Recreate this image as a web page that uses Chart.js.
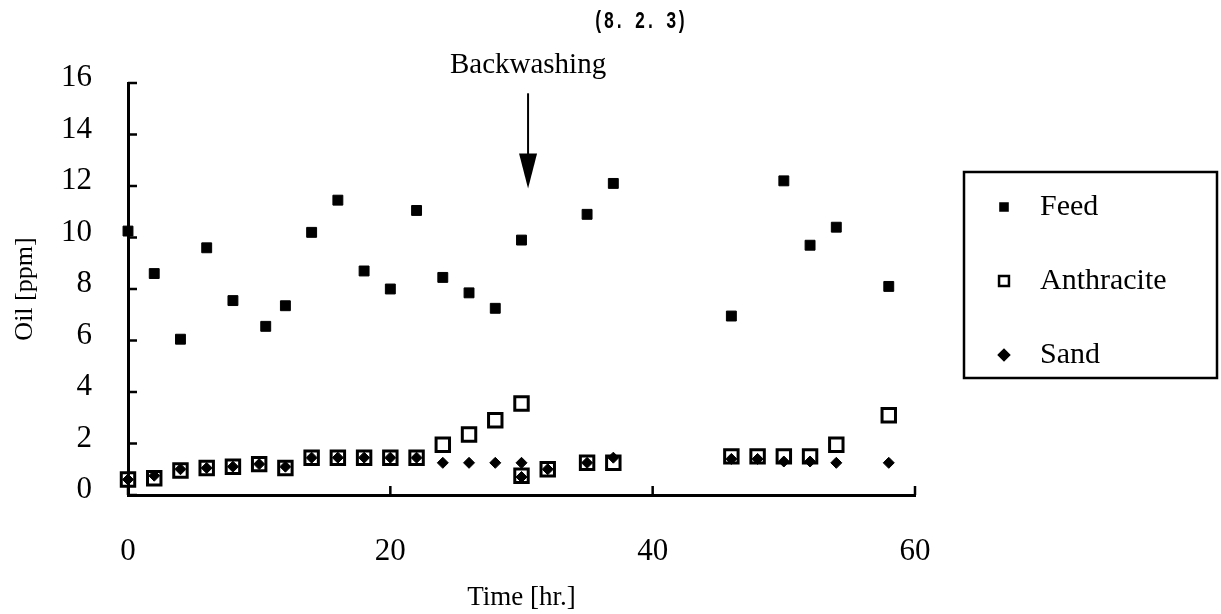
<!DOCTYPE html>
<html>
<head>
<meta charset="utf-8">
<title>Oil [ppm] vs Time [hr.]</title>
<script src="https://cdn.jsdelivr.net/npm/chart.js@4.4.1/dist/chart.umd.min.js"></script>
<style>
  html, body { margin: 0; padding: 0; background: #fff; }
  #wrap { width: 1221px; height: 614px; }
</style>
</head>
<body>
<div id="wrap"><canvas id="chart" width="1221" height="614"></canvas></div>
<script>
// Datos
const feedTime = [0, 2, 4, 6, 8, 10.5, 12, 14, 16, 18, 20, 22, 24, 26, 28, 30, 35, 37, 46, 50, 52, 54, 58];
const feedOil = [10.25, 8.6, 6.05, 9.6, 7.55, 6.55, 7.35, 10.2, 11.45, 8.7, 8.0, 11.05, 8.45, 7.85, 7.25, 9.9, 10.9, 12.1, 6.95, 12.2, 9.7, 10.4, 8.1];

const filterTime = [0, 2, 4, 6, 8, 10, 12, 14, 16, 18, 20, 22, 24, 26, 28, 30, 30, 32, 35, 37, 46, 48, 50, 52, 54, 58];
const anthraciteOil = [0.6, 0.65, 0.95, 1.05, 1.1, 1.2, 1.05, 1.45, 1.45, 1.45, 1.45, 1.45, 1.95, 2.35, 2.9, 3.55, 0.75, 1.0, 1.25, 1.25, 1.5, 1.5, 1.5, 1.5, 1.95, 3.1];
const sandOil = [0.6, 0.75, 1.0, 1.05, 1.1, 1.2, 1.1, 1.45, 1.45, 1.45, 1.45, 1.45, 1.25, 1.25, 1.25, 1.25, 0.7, 1.0, 1.25, 1.45, 1.4, 1.4, 1.3, 1.3, 1.25, 1.25];

const xTicks = [0, 20, 40, 60];
const yTicks = [0, 2, 4, 6, 8, 10, 12, 14, 16];

const backwashTime = 30.5;
const backwashLabel = "Backwashing";
const pageLabel = "(8. 2. 3)";

const serif = "'Liberation Serif', 'DejaVu Serif', serif";

function toPoints(xs, ys) {
  return xs.map((x, i) => ({ x, y: ys[i] }));
}

// Marcas de los ejes hacia dentro
const inwardTicks = {
  id: "inwardTicks",
  afterDraw(chart) {
    const { ctx, scales: { x, y } } = chart;
    ctx.save();
    ctx.strokeStyle = "#000";
    ctx.lineWidth = 2.5;
    ctx.beginPath();
    xTicks.forEach(v => {
      const px = x.getPixelForValue(v);
      ctx.moveTo(px, y.bottom);
      ctx.lineTo(px, y.bottom - 9);
    });
    yTicks.forEach(v => {
      const py = y.getPixelForValue(v);
      ctx.moveTo(x.left, py);
      ctx.lineTo(x.left + 9, py);
    });
    ctx.stroke();
    ctx.restore();
  }
};

// Flecha de retrolavado y rótulo de página
const annotations = {
  id: "annotations",
  afterDraw(chart) {
    const { ctx, scales: { x, y } } = chart;
    const px = x.getPixelForValue(backwashTime);
    const yTop = y.getPixelForValue(15.6);
    const yTip = y.getPixelForValue(11.9);
    ctx.save();
    ctx.fillStyle = "#000";
    ctx.strokeStyle = "#000";
    ctx.lineWidth = 2;
    ctx.beginPath();
    ctx.moveTo(px, yTop);
    ctx.lineTo(px, yTip - 30);
    ctx.stroke();
    ctx.beginPath();
    ctx.moveTo(px - 9, yTip - 35);
    ctx.lineTo(px + 9, yTip - 35);
    ctx.lineTo(px, yTip);
    ctx.closePath();
    ctx.fill();

    ctx.textAlign = "center";
    ctx.textBaseline = "alphabetic";
    ctx.font = "29px " + serif;
    ctx.fillText(backwashLabel, px, 73);

    // rótulo estrecho como en el original
    ctx.translate(640, 22);
    ctx.scale(0.72, 1);
    ctx.font = "bold 24px 'Liberation Mono', 'DejaVu Sans Mono', monospace";
    ctx.textBaseline = "middle";
    ctx.fillText(pageLabel, 0, 0);
    ctx.restore();
  }
};

// Leyenda con recuadro a la derecha
const boxLegend = {
  id: "boxLegend",
  afterDraw(chart) {
    const { ctx } = chart;
    const left = 964, top = 172, right = 1217, bottom = 378;
    const rows = [207, 281, 355];
    const sizes = [5, 7, 5];
    ctx.save();
    ctx.strokeStyle = "#000";
    ctx.lineWidth = 2.5;
    ctx.strokeRect(left, top, right - left, bottom - top);
    ctx.font = "30px " + serif;
    ctx.textAlign = "left";
    ctx.textBaseline = "middle";
    chart.data.datasets.forEach((ds, i) => {
      ctx.fillStyle = ds.backgroundColor;
      ctx.strokeStyle = ds.borderColor;
      Chart.helpers.drawPoint(ctx, {
        pointStyle: ds.pointStyle,
        radius: sizes[i],
        borderWidth: i === 1 ? 2.5 : 1,
        rotation: 0
      }, 1004, rows[i]);
      ctx.fillStyle = "#000";
      ctx.fillText(ds.label, 1040, rows[i]);
    });
    ctx.restore();
  }
};

const ctx = document.getElementById("chart").getContext("2d");
new Chart(ctx, {
  type: "scatter",
  data: {
    datasets: [
      {
        label: "Feed",
        data: toPoints(feedTime, feedOil),
        pointStyle: "rect",
        pointRadius: 7,
        backgroundColor: "#000",
        borderColor: "#000",
        borderWidth: 1,
        clip: false
      },
      {
        label: "Anthracite",
        data: toPoints(filterTime, anthraciteOil),
        pointStyle: "rect",
        pointRadius: 9.5,
        backgroundColor: "rgba(0,0,0,0)",
        borderColor: "#000",
        borderWidth: 3,
        clip: false
      },
      {
        label: "Sand",
        data: toPoints(filterTime, sandOil),
        pointStyle: "rectRot",
        pointRadius: 5.5,
        backgroundColor: "#000",
        borderColor: "#000",
        borderWidth: 1,
        clip: false
      }
    ]
  },
  options: {
    responsive: false,
    animation: false,
    events: [],
    layout: { padding: { top: 83, right: 306, left: 0, bottom: 0 } },
    plugins: {
      legend: { display: false },
      tooltip: { enabled: false }
    },
    scales: {
      x: {
        type: "linear",
        min: xTicks[0],
        max: xTicks[xTicks.length - 1],
        afterBuildTicks: s => { s.ticks = xTicks.map(v => ({ value: v })); },
        afterFit: s => { s.height = 119; },
        grid: { display: false },
        border: { display: true, color: "#000", width: 3 },
        ticks: { color: "#000", padding: 30, maxRotation: 0, font: { family: serif, size: 31 } },
        title: {
          display: true,
          text: "Time [hr.]",
          color: "#000",
          padding: { top: 0, bottom: 0 },
          font: { family: serif, size: 27 }
        }
      },
      y: {
        type: "linear",
        min: yTicks[0],
        max: yTicks[yTicks.length - 1],
        afterBuildTicks: s => { s.ticks = yTicks.map(v => ({ value: v })); },
        afterFit: s => { s.width = 128; },
        grid: { display: false },
        border: { display: true, color: "#000", width: 3 },
        ticks: { color: "#000", padding: 28, labelOffset: -5, font: { family: serif, size: 31 } },
        title: {
          display: true,
          text: "Oil [ppm]",
          color: "#000",
          padding: { top: 10, bottom: 0 },
          font: { family: serif, size: 26 }
        }
      }
    }
  },
  plugins: [inwardTicks, annotations, boxLegend]
});
</script>
</body>
</html>
